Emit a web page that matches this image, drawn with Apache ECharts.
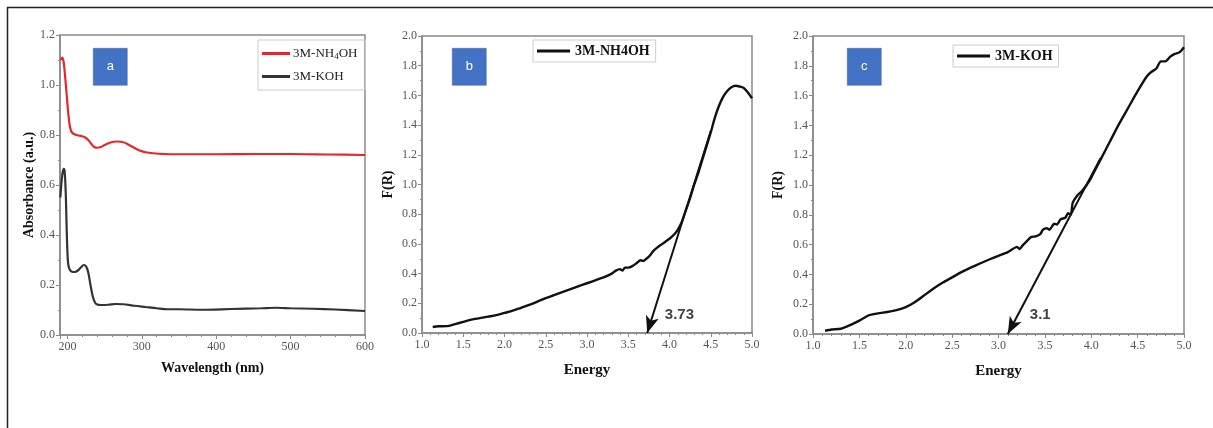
<!DOCTYPE html>
<html>
<head>
<meta charset="utf-8">
<script src="https://cdn.jsdelivr.net/npm/echarts@6/dist/echarts.min.js"></script>
<style>html,body{margin:0;padding:0;background:#fff;}#c{width:1213px;height:428px;}</style>
</head>
<body>
<div id="c"></div>
<script>
// ---------- DATA ----------
const nh4ohAbs = [[191,1.10],[193,1.11],[195,1.09],[197,1.03],[199,0.96],[201,0.89],[203,0.84],[205,0.815],[208,0.805],[212,0.80],[216,0.797],[220,0.795],[224,0.79],[228,0.78],[232,0.765],[236,0.752],[240,0.749],[245,0.752],[250,0.76],[256,0.768],[262,0.773],[268,0.774],[274,0.772],[280,0.765],[286,0.755],[292,0.745],[298,0.737],[305,0.731],[315,0.727],[330,0.724],[350,0.723],[400,0.723],[450,0.724],[500,0.724],[550,0.722],[600,0.72]];
const kohAbs = [[190.5,0.55],[192,0.61],[193.5,0.65],[195,0.665],[196,0.66],[197,0.62],[198,0.54],[199,0.42],[200,0.33],[201,0.285],[203,0.262],[206,0.253],[210,0.252],[214,0.258],[218,0.27],[222,0.28],[225,0.275],[228,0.25],[231,0.20],[234,0.155],[237,0.13],[240,0.122],[245,0.12],[255,0.121],[265,0.124],[275,0.123],[290,0.117],[305,0.112],[320,0.107],[335,0.103],[350,0.103],[380,0.101],[420,0.104],[460,0.107],[480,0.109],[500,0.107],[530,0.105],[560,0.102],[600,0.096]];
const nh4ohFR = [[1.13,0.04],[1.2,0.045],[1.3,0.046],[1.4,0.06],[1.5,0.075],[1.6,0.09],[1.7,0.10],[1.8,0.11],[1.9,0.12],[2.0,0.135],[2.1,0.15],[2.2,0.17],[2.3,0.19],[2.4,0.212],[2.5,0.235],[2.6,0.255],[2.7,0.275],[2.8,0.295],[2.9,0.315],[3.0,0.335],[3.1,0.355],[3.2,0.375],[3.3,0.40],[3.35,0.42],[3.4,0.43],[3.43,0.42],[3.46,0.44],[3.5,0.44],[3.55,0.45],[3.6,0.47],[3.65,0.49],[3.68,0.485],[3.72,0.50],[3.76,0.52],[3.8,0.55],[3.85,0.575],[3.9,0.595],[3.95,0.615],[4.0,0.635],[4.05,0.66],[4.1,0.695],[4.15,0.75],[4.2,0.83],[4.25,0.91],[4.3,1.0],[4.35,1.08],[4.4,1.17],[4.45,1.26],[4.5,1.35],[4.55,1.45],[4.6,1.53],[4.65,1.59],[4.7,1.63],[4.75,1.655],[4.8,1.665],[4.85,1.66],[4.9,1.65],[4.95,1.62],[5.0,1.58]];
const kohFR = [[1.13,0.022],[1.2,0.03],[1.3,0.035],[1.4,0.06],[1.5,0.09],[1.6,0.125],[1.7,0.138],[1.8,0.148],[1.9,0.16],[2.0,0.18],[2.1,0.215],[2.2,0.26],[2.3,0.305],[2.4,0.345],[2.5,0.38],[2.6,0.415],[2.7,0.445],[2.8,0.473],[2.9,0.50],[3.0,0.525],[3.1,0.55],[3.2,0.585],[3.23,0.57],[3.26,0.595],[3.3,0.62],[3.35,0.65],[3.4,0.655],[3.45,0.67],[3.48,0.70],[3.52,0.71],[3.55,0.70],[3.6,0.74],[3.63,0.735],[3.67,0.77],[3.72,0.78],[3.75,0.81],[3.78,0.80],[3.8,0.88],[3.85,0.93],[3.9,0.96],[3.95,1.0],[4.0,1.05],[4.1,1.17],[4.2,1.29],[4.3,1.41],[4.4,1.52],[4.5,1.63],[4.6,1.73],[4.65,1.76],[4.7,1.78],[4.75,1.83],[4.8,1.83],[4.85,1.86],[4.9,1.88],[4.95,1.89],[5.0,1.925]];
const tangentB = [[4.5,1.36],[3.73,0]];
const tangentC = [[4.1,1.18],[3.1,0]];
const labelB = {text:'3.73', at:[4.12,0.12]};
const labelC = {text:'3.1', at:[3.45,0.13]};
const panelTags = ['a','b','c'];

// ---------- CHART ----------
const serif = '"Liberation Serif","Times New Roman",serif';
const sans = '"Liberation Sans",Arial,sans-serif';
const axisGray = '#8a8a8a';
const chart = echarts.init(document.getElementById('c'));

function xAx(gi, min, max, interval, name, fmt, minorSplit, gap, fs){
  return {gridIndex:gi, type:'value', min:min, max:max, interval:interval,
    name:name, nameLocation:'middle', nameGap:gap,
    nameTextStyle:{fontFamily:serif, fontWeight:'bold', fontSize:fs, color:'#111'},
    axisLine:{show:true, lineStyle:{color:axisGray, width:1.5}},
    axisTick:{show:true, inside:false, length:4, lineStyle:{color:axisGray}},
    minorTick:{show:true, splitNumber:minorSplit, length:2, lineStyle:{color:axisGray}},
    splitLine:{show:false},
    axisLabel:{fontFamily:serif, fontSize:12, color:'#555', margin:6, formatter:fmt}};
}
function yAx(gi, min, max, interval, name, gap, fs){
  return {gridIndex:gi, type:'value', min:min, max:max, interval:interval,
    name:name, nameLocation:'middle', nameGap:gap,
    nameTextStyle:{fontFamily:serif, fontWeight:'bold', fontSize:fs, color:'#111'},
    axisLine:{show:true, lineStyle:{color:axisGray, width:1.5}},
    axisTick:{show:true, inside:false, length:4, lineStyle:{color:axisGray}},
    minorTick:{show:true, splitNumber:2, length:2, lineStyle:{color:axisGray}},
    splitLine:{show:false},
    axisLabel:{fontFamily:serif, fontSize:12, color:'#555', margin:5, formatter:v=>v.toFixed(1)}};
}
function tangent(xi, data){
  return {type:'line', xAxisIndex:xi, yAxisIndex:xi, data:[], silent:true,
    markLine:{silent:true, symbol:['none','arrow'], symbolSize:[10,17], label:{show:false},
      lineStyle:{color:'#111', width:2, type:'solid'},
      data:[[{coord:data[0]},{coord:data[1]}]]}};
}
function annot(xi, lab){
  return {type:'scatter', xAxisIndex:xi, yAxisIndex:xi, symbolSize:0, silent:true,
    data:[{value:lab.at, name:lab.text}],
    label:{show:true, position:'inside', formatter:'{b}', fontFamily:sans, fontWeight:'bold', fontSize:15, color:'#111'}};
}
const grids = [
  {left:60, top:35, width:305, height:300},
  {left:422, top:36, width:330, height:297},
  {left:813, top:36, width:371, height:298}
];
const tagPos = [[93,48],[452,48],[847,48]];

const option = {
  animation:false,
  backgroundColor:'#fff',
  grid: grids.map(g=>Object.assign({show:true, borderColor:axisGray, borderWidth:1.5, backgroundColor:'transparent'}, g)),
  xAxis:[
    xAx(0,190,600,null,'Wavelength (nm)', v=>(v%50===0?String(v):''), 5, 26, 14),
    xAx(1,1,5,0.5,'Energy', v=>v.toFixed(1), 5, 30, 15),
    xAx(2,1,5,0.5,'Energy', v=>v.toFixed(1), 5, 30, 15)
  ],
  yAxis:[
    yAx(0,0,1.2,0.2,'Absorbance (a.u.)',23,14),
    yAx(1,0,2,0.2,'F(R)',27,14),
    yAx(2,0,2,0.2,'F(R)',28,14)
  ],
  legend:[
    {data:['3M-NH₄OH','3M-KOH'], orient:'vertical', left:258, top:40, padding:[7,8,7,4], itemGap:9,
     itemWidth:28, itemHeight:3, icon:'rect', borderColor:'#ccc', borderWidth:1,
     formatter:n=>n==='3M-NH₄OH'?'3M-NH{s|4}OH':'3M-KOH',
     textStyle:{fontFamily:serif, fontSize:13, color:'#222', padding:[0,0,0,-2], rich:{s:{fontSize:9, fontFamily:serif, padding:[6,0,0,0], color:'#222'}}}},
    {data:['3M-NH4OH'], left:533, top:40, padding:[4,6,4,4], itemWidth:33, itemHeight:3, icon:'rect',
     borderColor:'#ccc', borderWidth:1,
     textStyle:{fontFamily:serif, fontSize:14, fontWeight:'bold', color:'#111'}},
    {data:['3M-KOH '], left:953, top:45, padding:[4,6,4,4], itemWidth:33, itemHeight:3, icon:'rect',
     borderColor:'#ccc', borderWidth:1,
     formatter:()=>'3M-KOH',
     textStyle:{fontFamily:serif, fontSize:14, fontWeight:'bold', color:'#111'}}
  ],
  series:[
    {name:'3M-NH₄OH', type:'line', xAxisIndex:0, yAxisIndex:0, data:nh4ohAbs, showSymbol:false, smooth:0.3,
     lineStyle:{color:'#e8262a', width:2.2}, itemStyle:{color:'#e8262a'}},
    {name:'3M-KOH', type:'line', xAxisIndex:0, yAxisIndex:0, data:kohAbs, showSymbol:false, smooth:0.3,
     lineStyle:{color:'#333', width:2.2}, itemStyle:{color:'#333'}},
    {name:'3M-NH4OH', type:'line', xAxisIndex:1, yAxisIndex:1, data:nh4ohFR, showSymbol:false, smooth:0.3,
     lineStyle:{color:'#111', width:2.4}, itemStyle:{color:'#111'}},
    {name:'3M-KOH ', type:'line', xAxisIndex:2, yAxisIndex:2, data:kohFR, showSymbol:false, smooth:0.2,
     lineStyle:{color:'#111', width:2.4}, itemStyle:{color:'#111'}},
    tangent(1, tangentB),
    tangent(2, tangentC),
    annot(1, labelB),
    annot(2, labelC)
  ],
  graphic:[
    {type:'line', shape:{x1:7, y1:7.5, x2:1213, y2:7.5}, style:{stroke:'#222', lineWidth:1.5}},
    {type:'line', shape:{x1:7.5, y1:7, x2:7.5, y2:428}, style:{stroke:'#222', lineWidth:1.5}}
  ].concat(panelTags.map((t,i)=>({type:'group', left:tagPos[i][0], top:tagPos[i][1], children:[
    {type:'rect', shape:{x:0,y:0,width:34,height:37}, style:{fill:'#4472C4', stroke:'#3a62a8', lineWidth:0.5}},
    {type:'text', x:17, y:18.5, style:{text:t, fill:'#fff', font:'13px '+sans, textAlign:'center', textVerticalAlign:'middle'}}
  ]})))
};
chart.setOption(option);
</script>
</body>
</html>
